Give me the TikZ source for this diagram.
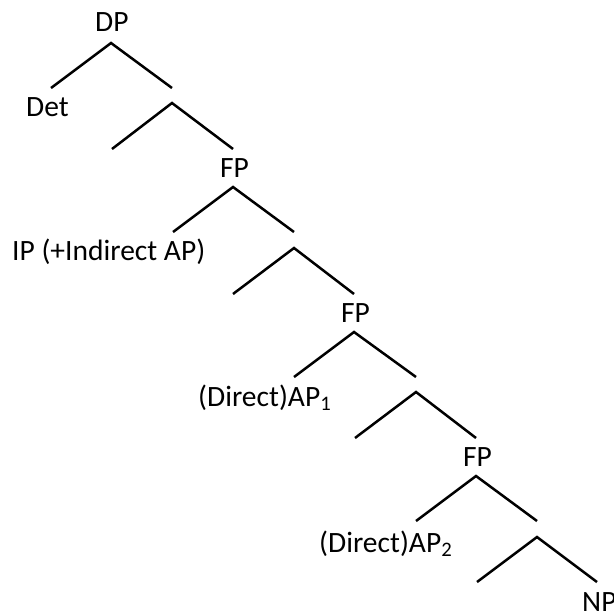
\documentclass[tikz,border=0pt]{standalone}
\usepackage{fontspec}
\setmainfont{Carlito}
\begin{document}
\begin{tikzpicture}[x=1pt,y=-1pt,
  label/.style={inner sep=0pt,anchor=base west,font=\fontsize{29.5}{35}\selectfont},
  branch/.style={line width=2.5pt}]
\useasboundingbox (0,0) rectangle (613,615);

% category labels
\node[label] (dp)  at (95,32)   {DP};
\node[label] (det) at (26,117)  {Det};
\node[label] (fp1) at (220,177) {FP};
\node[label] (ip)  at (12,260)  {IP (+Indirect AP)};
\node[label] (fp2) at (341,322) {FP};
\node[label] (ap1) at (198,406) {(Direct)AP\textsubscript{1}};
\node[label] (fp3) at (463,466) {FP};
\node[label] (ap2) at (319,552) {(Direct)AP\textsubscript{2}};
\node[label] (np)  at (582,611) {NP};

% branch points and leg ends
\coordinate (dp-top)   at (111,43);
\coordinate (det-end)  at (51,88);
\coordinate (b1-end)   at (172,88);
\coordinate (b1-top)   at (172,103);
\coordinate (b1-left)  at (112,149);
\coordinate (fp1-end)  at (233,149);
\coordinate (fp1-top)  at (233,187);
\coordinate (ip-end)   at (173,232);
\coordinate (b2-end)   at (294,232);
\coordinate (b2-top)   at (294,248);
\coordinate (b2-left)  at (233,294);
\coordinate (fp2-end)  at (354,294);
\coordinate (fp2-top)  at (354,332);
\coordinate (ap1-end)  at (294,377);
\coordinate (b3-end)   at (416,377);
\coordinate (b3-top)   at (416,392);
\coordinate (b3-left)  at (355,438);
\coordinate (fp3-end)  at (476,438);
\coordinate (fp3-top)  at (476,476);
\coordinate (ap2-end)  at (416,521);
\coordinate (b4-end)   at (537,521);
\coordinate (b4-top)   at (537,537);
\coordinate (b4-left)  at (477,582);
\coordinate (np-end)   at (597,582);

% branches
\draw[branch] (det-end) -- (dp-top) -- (b1-end);
\draw[branch] (b1-left) -- (b1-top) -- (fp1-end);
\draw[branch] (ip-end) -- (fp1-top) -- (b2-end);
\draw[branch] (b2-left) -- (b2-top) -- (fp2-end);
\draw[branch] (ap1-end) -- (fp2-top) -- (b3-end);
\draw[branch] (b3-left) -- (b3-top) -- (fp3-end);
\draw[branch] (ap2-end) -- (fp3-top) -- (b4-end);
\draw[branch] (b4-left) -- (b4-top) -- (np-end);
\end{tikzpicture}
\end{document}
